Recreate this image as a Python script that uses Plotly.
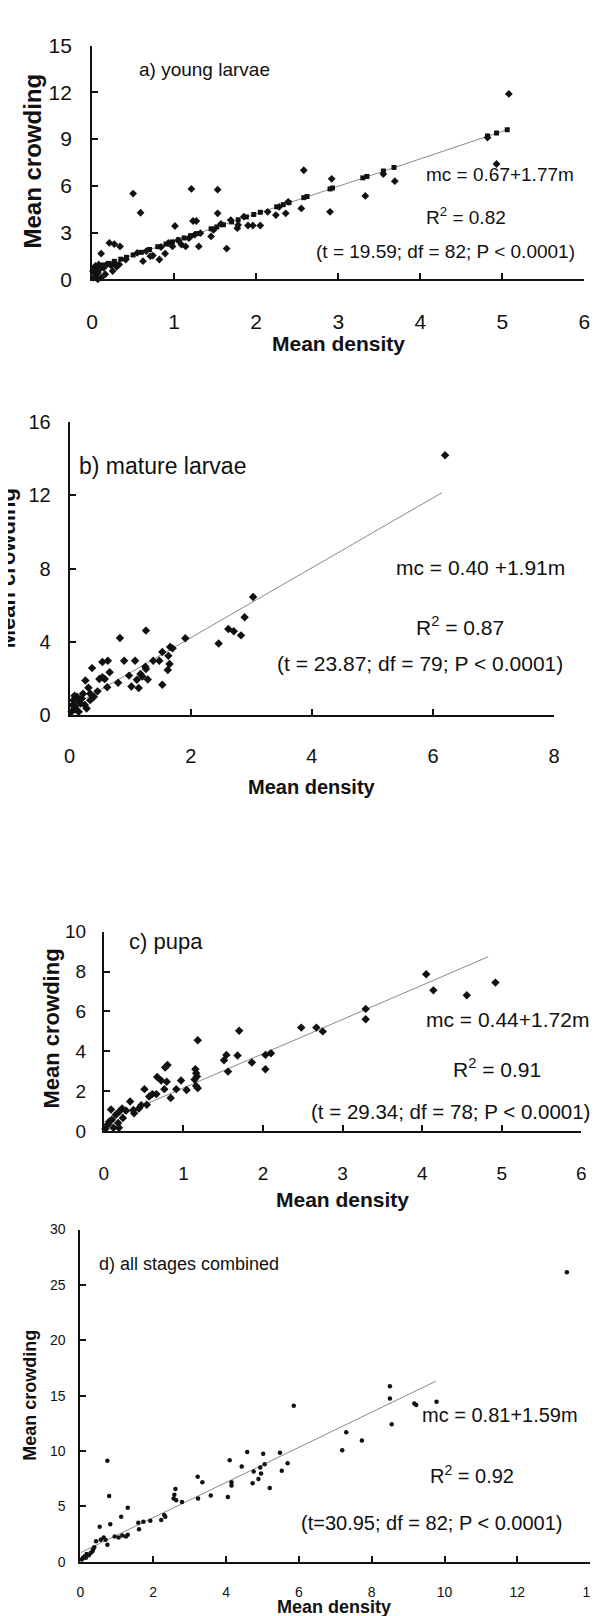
import plotly.graph_objects as go

W, H = 598, 1616
FONT = "Liberation Sans, Arial, sans-serif"
INK = "#111111"

# ---- a) young larvae
a_x = [5.08, 4.93, 3.69, 2.58, 2.92, 3.33, 2.90, 2.55, 2.24, 2.36, 0.50, 0.59, 1.21, 1.53, 1.53, 1.01, 1.23, 1.27,
       1.64, 1.30, 1.45, 1.77, 1.90, 2.05, 1.96, 0.11, 0.21, 0.27, 0.34, 0.25, 0.62, 0.82, 0.89, 1.14, 0.33, 0.41,
       0.71, 0.02, 0.05, 0.07, 0.09, 0.04, 0.08, 0.14, 0.16, 0.11, 0.18, 0.01, 0.07, 0.23, 0.27, 0.30, 0.55, 0.66,
       0.74, 0.84, 0.93, 0.98, 1.05, 1.09, 1.18, 1.25, 1.32, 1.48, 1.57, 1.69, 1.78, 1.85, 2.14, 2.28, 2.39, 3.55, 4.82]
a_y = [11.9, 7.4, 6.3, 7.0, 6.45, 5.35, 4.33, 4.55, 4.12, 4.23, 5.5, 4.27, 5.8, 5.75, 4.23, 3.42, 3.74, 3.74,
       1.97, 2.11, 2.75, 3.28, 3.45, 3.45, 3.45, 1.65, 2.33, 2.26, 2.11, 0.53, 1.16, 1.27, 1.65, 2.11, 0.95, 1.27,
       1.48, 0.1, 0.32, 0.42, 0.63, 0.85, 0.95, 0.74, 0.32, 0.1, 0.95, 0.53, 0.0, 0.89, 1.06, 0.80, 1.69, 1.80,
       1.52, 2.07, 2.33, 2.11, 2.49, 2.22, 2.64, 2.85, 2.96, 3.17, 3.55, 3.8, 3.49, 4.02, 4.33, 4.65, 4.97, 6.75, 9.1]
# squares sitting on the fitted line
a_sq_x = [0.02, 0.05, 0.09, 0.14, 0.2, 0.27, 0.35, 0.42, 0.5, 0.6, 0.7, 0.8, 0.9, 0.98, 1.05, 1.12, 1.2, 1.28,
          1.45, 1.52, 1.6, 1.7, 1.78, 1.88, 1.97, 2.05, 2.25, 2.33, 2.4, 2.58, 2.62, 2.9, 2.93, 3.3, 3.35, 3.55,
          3.68, 4.82, 4.93, 5.06]
a_sq_y = [0.7, 0.76, 0.83, 0.92, 1.02, 1.15, 1.29, 1.41, 1.56, 1.73, 1.91, 2.09, 2.26, 2.4, 2.53, 2.65, 2.8, 2.93,
          3.24, 3.36, 3.5, 3.68, 3.82, 4.0, 4.16, 4.3, 4.65, 4.79, 4.92, 5.24, 5.31, 5.8, 5.86, 6.51, 6.6, 6.95,
          7.18, 9.2, 9.39, 9.6]
a_fit_x = [0, 5.06]
a_fit_y = [0.67, 9.6]

# ---- b) mature larvae
b_x = [6.20, 3.03, 2.89, 2.62, 2.71, 2.83, 2.46, 1.91, 1.66, 1.70, 1.53, 1.63, 1.65, 1.62, 1.53, 1.48, 1.38, 1.26,
       1.25, 1.26, 1.08, 1.17, 1.20, 1.29, 1.11, 0.98, 1.02, 1.14, 0.90, 0.83, 0.80, 0.63, 0.54, 0.66, 0.58, 0.54,
       0.62, 0.49, 0.37, 0.26, 0.46, 0.40, 0.31, 0.34, 0.22, 0.18, 0.12, 0.09, 0.03, 0.06, 0.15, 0.25, 0.34,
       0.05, 0.10, 0.20, 0.28, 0.08, 0.14]
b_y = [14.19, 6.45, 5.34, 4.70, 4.57, 4.35, 3.91, 4.19, 3.71, 3.64, 3.44, 3.23, 2.78, 2.46, 1.65, 2.96, 2.96, 4.61,
       2.63, 2.51, 2.96, 2.24, 2.10, 1.94, 1.92, 2.15, 1.56, 1.47, 2.96, 4.21, 1.76, 2.96, 2.90, 2.33, 1.97, 2.06,
       1.52, 1.97, 2.56, 1.88, 1.29, 0.99, 1.49, 0.81, 1.16, 0.63, 0.99, 0.45, 0.18, 0.81, 0.18, 0.54, 1.16,
       0.55, 0.30, 0.90, 0.35, 1.05, 0.75]
b_fit_x = [0, 6.15]
b_fit_y = [0.40, 12.15]

# ---- c) pupa
c_x = [4.05, 4.14, 4.92, 4.56, 3.29, 3.29, 2.48, 2.67, 2.75, 1.70, 1.68, 1.86, 2.03, 2.03, 2.10, 1.51, 1.54, 1.56,
       1.18, 1.15, 1.16, 1.17, 1.14, 1.16, 1.18, 1.04, 0.97, 0.91, 0.84, 0.80, 0.77, 0.79, 0.76, 0.67, 0.72, 0.66,
       0.61, 0.51, 0.57, 0.54, 0.44, 0.47, 0.38, 0.33, 0.37, 0.23, 0.20, 0.09, 0.15, 0.24, 0.10, 0.18, 0.05, 0.12,
       0.02, 0.19, 0.07, 0.28]
c_y = [7.87, 7.06, 7.45, 6.81, 6.13, 5.61, 5.19, 5.19, 5.00, 5.03, 3.79, 3.44, 3.10, 3.82, 3.90, 3.55, 3.82, 2.98,
       4.55, 3.10, 2.90, 2.74, 2.58, 2.26, 2.15, 2.06, 2.53, 2.10, 1.65, 3.31, 3.19, 2.47, 2.10, 2.71, 2.53, 1.85,
       1.85, 2.10, 1.73, 1.32, 1.13, 1.29, 0.89, 1.48, 1.05, 1.13, 1.00, 1.08, 0.81, 0.65, 0.56, 0.40, 0.32, 0.16,
       0.11, 0.16, 0.48, 1.02]
c_fit_x = [0, 4.83]
c_fit_y = [0.44, 8.75]

# ---- d) all stages combined
d_x = [13.36, 8.50, 8.50, 8.55, 9.17, 9.22, 9.78, 5.86, 7.30, 7.19, 7.73, 0.74, 4.58, 4.10, 4.43, 5.02, 5.48, 5.69,
       5.53, 5.06, 4.94, 4.76, 4.96, 4.89, 4.73, 4.15, 4.15, 5.20, 4.05, 3.22, 3.35, 3.23, 3.58, 2.61, 2.58, 2.56,
       2.63, 2.79, 2.30, 2.33, 2.22, 0.79, 0.82, 1.30, 1.12, 0.53, 1.59, 1.73, 1.92, 1.61, 1.30, 1.25, 1.15, 0.94,
       1.05, 0.64, 0.56, 0.69, 0.74, 0.43, 0.38, 0.33, 0.28, 0.17, 0.12, 0.07, 0.04, 0.23, 0.15, 0.35]
d_y = [26.15, 15.84, 14.74, 12.42, 14.30, 14.15, 14.44, 14.09, 11.69, 10.06, 10.95, 9.11, 9.91, 9.17, 8.60, 9.76,
       9.85, 8.90, 8.22, 8.81, 8.52, 8.16, 7.98, 7.48, 7.09, 7.18, 6.88, 6.67, 5.84, 7.68, 7.18, 5.70, 5.99, 6.58,
       6.05, 5.70, 5.55, 5.40, 4.21, 4.07, 3.77, 5.93, 3.38, 4.87, 4.07, 3.17, 3.53, 3.62, 3.71, 2.94, 2.43, 2.28,
       2.37, 2.28, 2.20, 2.20, 1.99, 1.99, 1.54, 1.84, 1.31, 0.95, 0.80, 0.71, 0.50, 0.36, 0.21, 0.59, 0.36, 1.13]
d_fit_x = [0, 9.76]
d_fit_y = [0.81, 16.3]

panel_titles = ["a) young larvae", "b) mature larvae", "c) pupa", "d) all stages combined"]
equations = ["mc = 0.67+1.77m", "mc = 0.40 +1.91m", "mc = 0.44+1.72m", "mc = 0.81+1.59m"]
r2_text = ["R<sup>2</sup> = 0.82", "R<sup>2</sup> = 0.87", "R<sup>2</sup> = 0.91", "R<sup>2</sup> = 0.92"]
stats_text = ["(t = 19.59; df = 82; P < 0.0001)", "(t = 23.87; df = 79; P < 0.0001)",
              "(t = 29.34; df = 78; P < 0.0001)", "(t=30.95; df = 82; P < 0.0001)"]
x_ranges = [[0, 6], [0, 8], [0, 6], [0, 14]]
y_ranges = [[0, 15], [0, 16], [0, 10], [0, 30]]
x_dticks = [1, 2, 1, 2]
y_dticks = [3, 4, 2, 5]

# pixel layout of each panel: left, right, top, bottom of the plot area
boxes = [(80, 584, 26, 263), (57, 553, 408, 705), (92, 581, 925, 1127), (68, 590, 1227, 1564)]
tick_size = [21, 20, 19, 14]
xlab_off = [23, 22, 24, 16]
ylab_off = [14, 13, 12, 10]

fig = go.Figure()


def px(x, y):
    return x / W, 1 - y / H


series = [(a_x, a_y, a_fit_x, a_fit_y), (b_x, b_y, b_fit_x, b_fit_y),
          (c_x, c_y, c_fit_x, c_fit_y), (d_x, d_y, d_fit_x, d_fit_y)]
msize = [6, 6.5, 6.5, 4.5]
msym = ["diamond", "diamond", "diamond", "circle"]

for i, (xs, ys, fx, fy) in enumerate(series):
    n = "" if i == 0 else str(i + 1)
    fig.add_trace(go.Scatter(x=fx, y=fy, mode="lines", line=dict(color="#8a8a8a", width=1),
                             xaxis="x" + n, yaxis="y" + n, showlegend=False, hoverinfo="skip"))
    if i == 0:
        fig.add_trace(go.Scatter(x=a_sq_x, y=a_sq_y, mode="markers",
                                 marker=dict(symbol="square", size=5, color=INK),
                                 xaxis="x", yaxis="y", showlegend=False, cliponaxis=False))
    fig.add_trace(go.Scatter(x=xs, y=ys, mode="markers",
                             marker=dict(symbol=msym[i], size=msize[i], color=INK),
                             xaxis="x" + n, yaxis="y" + n, showlegend=False, cliponaxis=False))

layout = dict(width=W, height=H, autosize=False, margin=dict(l=0, r=0, t=0, b=0),
              paper_bgcolor="white", plot_bgcolor="white", showlegend=False)

for i in range(4):
    l, r, t, b = boxes[i]
    n = "" if i == 0 else str(i + 1)
    common = dict(showline=True, linecolor=INK, linewidth=2, ticks="inside", ticklen=6, tickwidth=1.5,
                  tickcolor=INK, showgrid=False, zeroline=False, fixedrange=True, tick0=0,
                  tickfont=dict(family=FONT, size=tick_size[i], color=INK))
    layout["xaxis" + n] = dict(common, domain=[l / W, r / W], range=x_ranges[i], dtick=x_dticks[i],
                               anchor="y" + n, ticklabelstandoff=xlab_off[i])
    layout["yaxis" + n] = dict(common, domain=[1 - b / H, 1 - t / H], range=y_ranges[i], dtick=y_dticks[i],
                               anchor="x" + n, ticklabelstandoff=ylab_off[i])

fig.update_layout(**layout)

# text placement (pixels): title, equation, R2, stats (left x, centre y) and sizes
title_pos = [(126, 50, 19), (65, 452, 23), (116, 935, 22), (85, 1262, 18)]
eq_pos = [(420, 157, 19), (389, 555, 21), (420, 1014, 21), (416, 1415, 20)]
r2_pos = [(420, 199, 19), (410, 615, 21), (447, 1063, 21), (424, 1475, 20)]
st_pos = [(307, 235, 19), (267, 653, 21), (302, 1107, 20.5), (292, 1525, 20)]
xt_pos = [(332, 328, 21), (305, 778, 20), (336, 1197, 21), (328, 1610, 18)]
yt_pos = [(19, 143, 24), (-7, 556, 22), (38, 1023, 22), (17, 1395, 18)]

for i in range(4):
    for txt, (x, y, s) in [(panel_titles[i], title_pos[i]), (equations[i], eq_pos[i]),
                           (r2_text[i], r2_pos[i]), (stats_text[i], st_pos[i])]:
        ax, ay = px(x, y)
        fig.add_annotation(x=ax, y=ay, xref="paper", yref="paper", text=txt, showarrow=False,
                           xanchor="left", yanchor="middle", font=dict(family=FONT, size=s, color=INK))
    ax, ay = px(*xt_pos[i][:2])
    fig.add_annotation(x=ax, y=ay, xref="paper", yref="paper", text="<b>Mean density</b>", showarrow=False,
                       xanchor="center", yanchor="middle", font=dict(family=FONT, size=xt_pos[i][2], color=INK))
    ax, ay = px(*yt_pos[i][:2])
    fig.add_annotation(x=ax, y=ay, xref="paper", yref="paper", text="<b>Mean crowding</b>", showarrow=False,
                       textangle=-90, xanchor="center", yanchor="middle",
                       font=dict(family=FONT, size=yt_pos[i][2], color=INK))

fig.write_html("out.html")
